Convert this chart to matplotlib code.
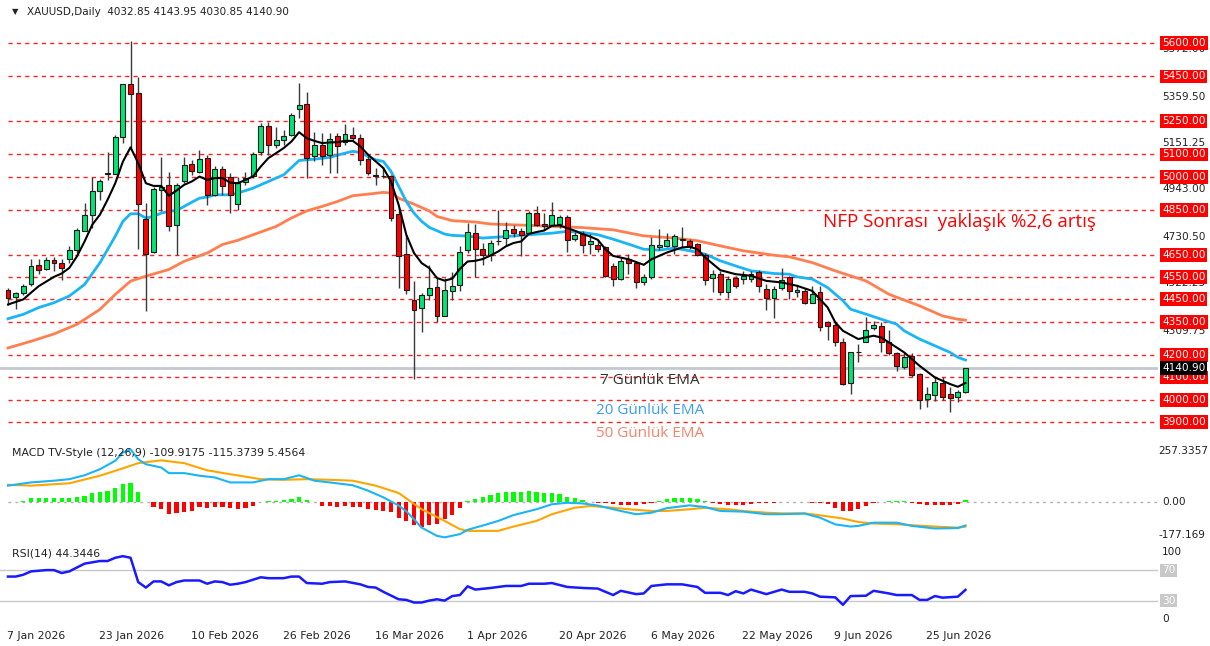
import numpy as np
import matplotlib
matplotlib.use("Agg")
import matplotlib.pyplot as plt
import matplotlib.transforms as mtransforms

# ---- data (daily bars, index 0 = 7 Jan 2026) ----
opens = [4494, 4460, 4477, 4517, 4602, 4588, 4627, 4614, 4629, 4673,
         4758, 4830, 4938, 5011, 5013, 5180, 5418, 5374, 4812, 4663,
         4941, 4964, 4785, 4983, 5056, 5023, 5083, 4919, 5037, 4998,
         4879, 4975, 5002, 5111, 5229, 5141, 5163, 5188, 5305, 5326,
         5091, 5144, 5096, 5181, 5158, 5188, 5175, 5081, 5010, 5005,
         5004, 4833, 4653, 4448, 4411, 4471, 4505, 4377, 4486, 4513,
         4673, 4750, 4676, 4650, 4710, 4725, 4765, 4757, 4747, 4837,
         4788, 4785, 4788, 4819, 4722, 4743, 4700, 4695, 4683, 4600,
         4541, 4630, 4615, 4526, 4551, 4685, 4690, 4690, 4722, 4710,
         4698, 4650, 4544, 4563, 4484, 4545, 4540, 4541, 4571, 4496,
         4456, 4500, 4551, 4484, 4488, 4436, 4485, 4347, 4335, 4260,
         4073, 4212, 4260, 4320, 4332, 4257, 4209, 4148, 4197, 4115,
         4003, 4022, 4073, 4025, 4010, 4032.85]
highs = [4502, 4483, 4517, 4629, 4631, 4640, 4638, 4629, 4691, 4770,
         4882, 5001, 4989, 5113, 5187, 5418, 5610, 5448, 4882, 4953,
         5090, 5023, 4971, 5090, 5076, 5120, 5098, 5049, 5049, 5016,
         5001, 5023, 5111, 5239, 5244, 5221, 5208, 5286, 5420, 5378,
         5203, 5196, 5196, 5196, 5238, 5223, 5191, 5091, 5039, 5042,
         5006, 4864, 4740, 4531, 4478, 4602, 4546, 4546, 4575, 4688,
         4792, 4789, 4703, 4717, 4852, 4795, 4785, 4770, 4845, 4871,
         4837, 4889, 4827, 4827, 4752, 4755, 4743, 4717, 4690, 4611,
         4642, 4653, 4623, 4563, 4730, 4765, 4750, 4745, 4775, 4720,
         4705, 4656, 4583, 4578, 4556, 4556, 4578, 4578, 4581, 4518,
         4511, 4593, 4556, 4511, 4500, 4511, 4511, 4354, 4342, 4279,
         4216, 4249, 4369, 4354, 4347, 4312, 4216, 4208, 4208, 4122,
         4055, 4108, 4100, 4055, 4045, 4143.95]
lows = [4427, 4405, 4471, 4512, 4566, 4584, 4579, 4539, 4614, 4658,
        4755, 4770, 4897, 4986, 5011, 5150, 5128, 4678, 4398, 4658,
        4845, 4755, 4648, 4974, 5008, 5016, 4874, 4912, 4919, 4837,
        4852, 4965, 4994, 5099, 5099, 5129, 5144, 5185, 5263, 4994,
        5069, 5051, 5016, 5016, 5144, 5166, 5054, 5009, 4964, 4994,
        4803, 4501, 4474, 4093, 4303, 4448, 4348, 4374, 4448, 4486,
        4658, 4549, 4605, 4620, 4695, 4688, 4732, 4646, 4743, 4777,
        4762, 4777, 4770, 4662, 4710, 4658, 4653, 4662, 4551, 4508,
        4536, 4563, 4503, 4515, 4541, 4671, 4683, 4653, 4686, 4675,
        4645, 4514, 4481, 4470, 4456, 4500, 4521, 4526, 4481, 4403,
        4366, 4491, 4451, 4462, 4429, 4432, 4309, 4267, 4242, 4067,
        4025, 4167, 4257, 4312, 4212, 4202, 4130, 4137, 4100, 3958,
        3966, 3995, 3998, 3943, 3990, 4030.85]
closes = [4454, 4477, 4509, 4599, 4584, 4628, 4614, 4591, 4673, 4760,
          4830, 4937, 4983, 5016, 5180, 5415, 5371, 4879, 4655, 4944,
          4953, 4778, 4961, 5053, 5026, 5080, 4919, 5037, 4959, 4919,
          4971, 4995, 5102, 5229, 5141, 5163, 5184, 5278, 5323, 5084,
          5144, 5091, 5170, 5136, 5191, 5173, 5076, 5016, 5005, 5003,
          4815, 4646, 4493, 4403, 4471, 4501, 4374, 4493, 4511, 4662,
          4752, 4676, 4650, 4705, 4712, 4762, 4747, 4740, 4837, 4785,
          4780, 4830, 4818, 4717, 4737, 4692, 4710, 4677, 4556, 4541,
          4623, 4615, 4526, 4551, 4693, 4693, 4716, 4735, 4715, 4690,
          4650, 4536, 4566, 4481, 4541, 4508, 4555, 4563, 4511, 4456,
          4496, 4536, 4488, 4491, 4436, 4474, 4327, 4332, 4257, 4070,
          4212, 4215, 4312, 4335, 4257, 4209, 4152, 4193, 4112, 3998,
          4025, 4078, 4013, 4007, 4032.85, 4140.90]

ema7_idx = [0, 2, 3, 4, 6, 7, 8, 9, 10, 11, 12, 13, 14, 15, 16, 17, 18, 19, 20,
            21, 22, 23, 24, 25, 26, 27, 28, 29, 30, 31, 32, 33, 34, 35, 36, 37,
            38, 39, 40, 41, 42, 43, 44, 45, 46, 47, 48, 49, 50, 51, 52, 53, 54,
            55, 56, 57, 58, 59, 60, 61, 62, 63, 64, 65, 66, 67, 68, 69, 70, 71,
            72, 73, 74, 75, 76, 77, 78, 79, 81, 83, 84, 86, 88, 89, 90, 91, 93,
            95, 97, 99, 101, 103, 105, 107, 108, 109, 111, 113, 114, 115, 117,
            119, 121, 123, 124, 125]
ema7_val = [4427, 4450, 4480, 4509, 4551, 4566, 4591, 4643, 4710, 4785, 4830,
            4897, 4971, 5068, 5132, 5061, 4971, 4959, 4959, 4915, 4938, 4964,
            4979, 5001, 4986, 4994, 4994, 4974, 4971, 4986, 5002, 5046, 5084,
            5106, 5129, 5158, 5200, 5173, 5161, 5151, 5154, 5155, 5161, 5161,
            5136, 5099, 5069, 5039, 4979, 4874, 4740, 4658, 4613, 4590, 4546,
            4534, 4543, 4587, 4620, 4623, 4631, 4647, 4665, 4688, 4703, 4710,
            4744, 4752, 4759, 4780, 4782, 4770, 4758, 4743, 4732, 4717, 4675,
            4645, 4630, 4605, 4630, 4660, 4683, 4686, 4675, 4638, 4581, 4563,
            4556, 4533, 4526, 4511, 4488, 4414, 4347, 4309, 4272, 4287, 4279,
            4257, 4212, 4152, 4100, 4070, 4058, 4075]

ema20_idx = [0, 2, 4, 6, 8, 10, 12, 14, 15, 16, 17, 18, 19, 20, 21, 22, 23, 24,
             25, 26, 27, 29, 30, 31, 32, 34, 36, 38, 40, 42, 44, 45, 46, 47, 48,
             49, 50, 51, 52, 53, 54, 55, 56, 57, 58, 60, 62, 65, 68, 71, 73, 75,
             77, 79, 81, 83, 85, 87, 89, 91, 93, 95, 97, 100, 102, 103, 105, 107,
             109, 110, 112, 114, 116, 117, 119, 121, 123, 124, 125]
ema20_val = [4363, 4383, 4413, 4435, 4465, 4517, 4614, 4733, 4800, 4834, 4834,
             4815, 4822, 4837, 4845, 4849, 4867, 4886, 4904, 4909, 4919, 4919,
             4927, 4938, 4949, 4979, 5009, 5073, 5079, 5087, 5106, 5114, 5109,
             5091, 5076, 5069, 5024, 4957, 4889, 4837, 4800, 4773, 4758, 4743,
             4737, 4734, 4725, 4732, 4740, 4747, 4755, 4750, 4740, 4720, 4698,
             4675, 4671, 4680, 4668, 4653, 4623, 4600, 4578, 4566, 4563, 4551,
             4541, 4503, 4444, 4406, 4384, 4361, 4339, 4309, 4272, 4242, 4212,
             4190, 4178]

ema50_idx = [0, 3, 6, 9, 12, 14, 16, 18, 21, 23, 26, 28, 30, 32, 35, 37, 39, 41,
             43, 45, 47, 49, 50, 51, 53, 55, 56, 58, 61, 63, 68, 72, 75, 79, 83,
             87, 90, 93, 96, 100, 102, 105, 108, 112, 115, 119, 122, 124, 125]
ema50_val = [4232, 4262, 4295, 4338, 4405, 4472, 4532, 4554, 4584, 4621, 4658,
             4696, 4715, 4740, 4777, 4815, 4847, 4867, 4889, 4915, 4922, 4930,
             4927, 4904, 4877, 4847, 4822, 4803, 4797, 4788, 4782, 4776, 4772,
             4762, 4735, 4725, 4713, 4690, 4668, 4648, 4641, 4615, 4578, 4533,
             4473, 4421, 4376, 4361, 4357]

macd_idx = [0, 3, 6, 8, 10, 12, 14, 15, 16, 17, 18, 20, 21, 23, 25, 27, 29, 32,
            34, 36, 38, 40, 42, 45, 47, 49, 51, 52, 53, 54, 56, 57, 59, 60, 62,
            64, 66, 69, 71, 73, 75, 77, 80, 82, 84, 86, 89, 91, 93, 96, 99, 101,
            104, 106, 108, 110, 111, 113, 116, 118, 121, 124, 125]
macd_val = [74, 89, 97, 104, 122, 150, 189, 227, 242, 196, 173, 158, 132, 132,
            120, 112, 89, 89, 104, 104, 122, 97, 89, 76, 51, 20, -18, -45, -81,
            -120, -158, -165, -150, -130, -110, -89, -62, -35, -12, -5, -8, -18,
            -43, -58, -51, -30, -17, -25, -43, -46, -58, -58, -55, -74, -105,
            -115, -112, -97, -97, -112, -124, -122, -109.9175]

signal_idx = [0, 3, 8, 12, 15, 17, 20, 23, 26, 29, 33, 36, 39, 42, 45, 48, 51,
              54, 57, 59, 60, 64, 66, 69, 71, 74, 76, 79, 81, 84, 86, 89, 91, 94,
              96, 99, 101, 104, 106, 109, 111, 113, 116, 118, 121, 124, 125]
signal_val = [78, 74, 85, 120, 154, 178, 191, 178, 145, 127, 104, 101, 104, 101,
              97, 74, 40, -35, -89, -127, -135, -135, -115, -89, -58, -28, -20,
              -28, -35, -43, -43, -35, -28, -35, -43, -51, -54, -54, -63, -78,
              -94, -101, -104, -109, -115, -120, -115.3739]

hist_val = [-1, -1, 1, 16, 17, 17, 16, 16, 17, 23, 28, 40, 46, 51, 62, 81, 86, 46,
            -3, -26, -34, -57, -52, -49, -41, -26, -30, -26, -26, -29, -34, -30,
            -18, -2, 2, 3, 9, 12, 23, 7, -3, -18, -18, -23, -18, -23, -26, -34,
            -37, -41, -46, -76, -89, -109, -115, -109, -104, -81, -63, -28, 5, 11,
            20, 32, 41, 46, 46, 46, 48, 44, 41, 39, 34, 23, 16, 6, -2, -5, -7,
            -12, -16, -16, -14, -9, -5, 3, 11, 18, 18, 18, 11, 3, -5, -12, -16,
            -16, -14, -9, -7, -5, -5, -2, -2, -2, -2, -5, -7, -12, -28, -43, -43,
            -35, -20, -5, -2, 2, 2, 2, -5, -12, -17, -16, -14, -16, -12, 5.4564]

rsi_idx = [0, 1, 2, 3, 5, 6, 7, 8, 9, 10, 12, 13, 14, 15, 16, 17, 18, 19, 20, 21,
           22, 23, 25, 26, 27, 28, 29, 30, 31, 33, 34, 36, 37, 38, 39, 41, 42,
           44, 46, 47, 48, 49, 51, 52, 53, 54, 55, 56, 57, 58, 59, 60, 61, 63,
           65, 67, 68, 70, 71, 73, 75, 77, 79, 80, 82, 83, 84, 86, 88, 90, 91,
           93, 94, 95, 96, 97, 99, 101, 102, 104, 105, 106, 108, 109, 110, 112,
           113, 115, 116, 118, 119, 120, 121, 122, 124, 125]
rsi_val = [61.6, 61.6, 64, 68.3, 70, 70, 66.2, 68.3, 73.4, 78.4, 81.8, 81.8, 86,
           88.1, 86, 54.4, 47.3, 55.3, 55.3, 50.2, 54.4, 56.5, 56.5, 52.3, 55.3,
           54.4, 51, 52.3, 54.4, 60.7, 59.5, 59.5, 61.6, 61.6, 53.2, 52.3, 54.4,
           55.3, 51.5, 48.1, 47.3, 41.8, 32.1, 31.3, 27.9, 27.9, 30.4, 32.1, 30.4,
           36.3, 37.6, 48.9, 44.7, 46.8, 49.4, 49.4, 52.3, 52.3, 53.2, 48.1, 46.8,
           46, 37.6, 43.1, 38.8, 39.7, 49.4, 51.5, 51.5, 48.1, 40.5, 40.5, 37.6,
           42.6, 39.7, 44.7, 38.8, 44.7, 41.8, 41.8, 39.7, 35.5, 34.6, 24.9, 36.3,
           36.7, 43.1, 39.7, 37.6, 37.6, 31.3, 31.3, 36.3, 34.2, 35.5, 44.3446]

levels = [5600, 5450, 5250, 5100, 5000, 4850, 4650, 4550, 4450, 4350, 4200,
          4100, 4000, 3900]
scale_prices = [5572.00, 5359.50, 5151.25, 4943.00, 4730.50, 4522.25, 4309.75]
last_price = 4140.90
date_pos = [0, 12, 24, 36, 48, 60, 72, 84, 96, 108, 120]
date_labels = ['7 Jan 2026', '23 Jan 2026', '10 Feb 2026', '26 Feb 2026',
               '16 Mar 2026', '1 Apr 2026', '20 Apr 2026', '6 May 2026',
               '22 May 2026', '9 Jun 2026', '25 Jun 2026']

# ---- layout (pixel based) ----
W, H = 1210, 646
STEP = 7.66      # px per bar
X0 = 8           # px of first bar
RIGHT = 1158     # px where the price scale starts


def rect(x0, y0, x1, y1):
    return [x0 / W, 1 - y1 / H, (x1 - x0) / W, (y1 - y0) / H]


xlim = (-X0 / STEP, (RIGHT - X0) / STEP)
line_start = X0 / RIGHT

fig = plt.figure(figsize=(W / 100, H / 100), dpi=100)
fig.patch.set_facecolor('white')
scale_font = dict(family='DejaVu Sans', fontsize=7.6)

axp = fig.add_axes(rect(0, 20, RIGHT, 441))
axm = fig.add_axes(rect(0, 446, RIGHT, 540))
axr = fig.add_axes(rect(0, 547, RIGHT, 624))
for ax in (axp, axm, axr):
    ax.set_xlim(*xlim)
    for s in ax.spines.values():
        s.set_visible(False)
    ax.set_yticks([])
    ax.tick_params(length=0)
    ax.set_xticks([])

# price panel
ppx = 0.22294
axp.set_ylim(3900 - 19 / ppx, 5600 + 23 / ppx)
tp = mtransforms.blended_transform_factory(axp.transAxes, axp.transData)
lab_x = 1 + 4 / RIGHT

for p in scale_prices:
    axp.text(lab_x, p, f'{p:.2f}', transform=tp, ha='left', va='center',
             color='#222222', clip_on=False, **scale_font)

for lv in levels:
    axp.axhline(lv, xmin=line_start, xmax=1, color='#ff2020', lw=1.0,
                dashes=(3, 3), zorder=1)
axp.axhline(last_price, color='#c3c9cf', lw=2.0, zorder=1)

for lv in levels:
    axp.text(lab_x, lv, f'{lv:.2f}', transform=tp, ha='left', va='center',
             color='white', clip_on=False, zorder=6,
             bbox=dict(boxstyle='square,pad=0.18', fc='#ff0000', ec='none'),
             **scale_font)
axp.text(lab_x, last_price, f'{last_price:.2f}', transform=tp, ha='left',
         va='center', color='white', clip_on=False, zorder=7,
         bbox=dict(boxstyle='square,pad=0.18', fc='#000000', ec='none'),
         **scale_font)

idx = np.arange(len(closes))
o = np.array(opens)
c = np.array(closes)
hi = np.array(highs)
lo = np.array(lows)
axp.vlines(idx, lo, hi, color='#3a3a3a', lw=1.0, zorder=3)
body_lo = np.minimum(o, c)
body_h = np.maximum(np.abs(c - o), 2.5)
cols = np.where(c >= o, '#00e676', '#ff0000')
axp.bar(idx, body_h, bottom=body_lo, width=0.64, color=cols,
        edgecolor='#1a1a1a', linewidth=0.8, zorder=4)

axp.plot(ema50_idx, ema50_val, color='#ff7f50', lw=2.0, zorder=2)
axp.plot(ema20_idx, ema20_val, color='#1ab5f5', lw=2.0, zorder=2)
axp.plot(ema7_idx, ema7_val, color='#000000', lw=1.5, zorder=5)

ann = dict(family=['Open Sans', 'DejaVu Sans'])
axp.text(0.711, 0.521, 'NFP Sonrası  yaklaşık %2,6 artış', transform=axp.transAxes,
         color='#ff0000', fontsize=13.5, ha='left', va='center', **ann)
axp.text(0.518, 0.144, '7 Günlük EMA', transform=axp.transAxes,
         color='#333333', fontsize=11, ha='left', va='center', **ann)
axp.text(0.515, 0.073, '20 Günlük EMA', transform=axp.transAxes,
         color='#3d9df2', fontsize=11, ha='left', va='center', **ann)
axp.text(0.515, 0.019, '50 Günlük EMA', transform=axp.transAxes,
         color='#f5826b', fontsize=11, ha='left', va='center', **ann)

fig.text(12 / W, 1 - 12 / H, '\u25bc', fontsize=6, color='#222222',
         ha='left', va='center')
fig.text(27 / W, 1 - 12 / H, 'XAUUSD,Daily  4032.85 4143.95 4030.85 4140.90',
         fontsize=7.5, color='#222222', ha='left', va='center')

# MACD panel
axm.set_ylim(-177.169, 257.3357)
tm = mtransforms.blended_transform_factory(axm.transAxes, axm.transData)
lab_xm = 1 + 0.5 / RIGHT
axm.axhline(0, xmin=line_start, xmax=1, color='#b0b0b0', lw=1.0,
            dashes=(2, 3), zorder=1)
hv = np.array(hist_val)
axm.bar(np.arange(len(hv)), hv, width=0.55,
        color=np.where(hv > 0, '#00ff00', '#ff0000'), zorder=2)
axm.plot(signal_idx, signal_val, color='#ffa500', lw=1.5, zorder=3)
axm.plot(macd_idx, macd_val, color='#1ab5f5', lw=1.5, zorder=3)
axm.text(12 / RIGHT, 0.93, 'MACD TV-Style (12,26,9) -109.9175 -115.3739 5.4564',
         transform=axm.transAxes, ha='left', va='center', fontsize=7.8,
         color='#222222')
axm.text(lab_xm, 257.3357, '257.3357', transform=tm, ha='left', va='top',
         color='#222222', clip_on=False, **scale_font)
axm.text(lab_x, 0, '0.00', transform=tm, ha='left', va='center',
         color='#222222', clip_on=False, **scale_font)
axm.text(lab_xm, -177.169, '-177.169', transform=tm, ha='left', va='bottom',
         color='#222222', clip_on=False, **scale_font)

# RSI panel
axr.set_ylim(0, 100)
tr = mtransforms.blended_transform_factory(axr.transAxes, axr.transData)
for lv in (70, 30):
    axr.axhline(lv, color='#c8c8c8', lw=1.0, zorder=1)
    axr.text(lab_x, lv, str(lv), transform=tr, ha='left', va='center',
             color='white', clip_on=False,
             bbox=dict(boxstyle='square,pad=0.15', fc='#c8c8c8', ec='none'),
             **scale_font)
axr.plot(rsi_idx, rsi_val, color='#1a1aff', lw=1.8, zorder=3)
axr.text(12 / RIGHT, 0.92, 'RSI(14) 44.3446', transform=axr.transAxes,
         ha='left', va='center', fontsize=7.8, color='#222222')
axr.text(lab_x, 100, '100', transform=tr, ha='left', va='top',
         color='#222222', clip_on=False, **scale_font)
axr.text(lab_x, 0, '0', transform=tr, ha='left', va='bottom',
         color='#222222', clip_on=False, **scale_font)

axr.set_xticks(np.array(date_pos) - 0.12)
axr.set_xticklabels(date_labels, ha='left', fontsize=7.8, color='#222222')
axr.tick_params(axis='x', length=0, pad=5)

fig.savefig('out.png', dpi=100, facecolor='white')
